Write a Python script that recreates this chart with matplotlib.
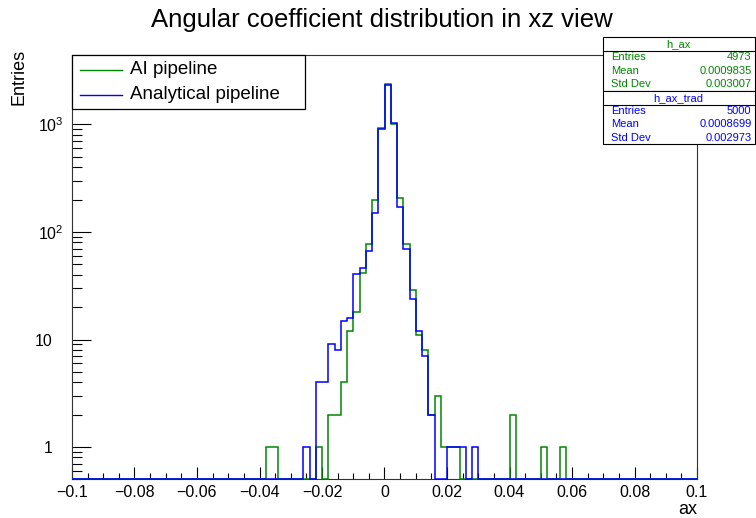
import numpy as np
import matplotlib
matplotlib.use('Agg')
import matplotlib.pyplot as plt
import matplotlib.transforms as mtransforms
from matplotlib.ticker import MultipleLocator, LogLocator, NullFormatter, FuncFormatter
from matplotlib.patches import Rectangle
from matplotlib.lines import Line2D
from matplotlib import rcParams

rcParams.update({'font.family': 'Liberation Sans',
                 'mathtext.fontset': 'custom',
                 'mathtext.rm': 'Liberation Sans',
                 'mathtext.it': 'Liberation Sans:italic'})

# binning of h_ax / h_ax_trad
nbins = 100
xmin, xmax = -0.1, 0.1
ymin, ymax = 0.5, 4430

# filled bins: lower bin edge -> entries
ai_low = [-0.038, -0.036, -0.022, -0.018, -0.016, -0.014, -0.012, -0.010, -0.008,
          -0.006, -0.004, -0.002, 0.000, 0.002, 0.004, 0.006, 0.008, 0.010, 0.012,
          0.014, 0.016, 0.018, 0.020, 0.022, 0.040, 0.050, 0.056]
ai_counts = [1, 1, 1, 2, 2, 4, 12, 18, 42,
             78, 200, 930, 2380, 1010, 208, 77, 29, 11, 8,
             2, 3, 1, 1, 1, 2, 1, 1]

trad_low = [-0.026, -0.022, -0.020, -0.018, -0.016, -0.014, -0.012, -0.010, -0.008,
            -0.006, -0.004, -0.002, 0.000, 0.002, 0.004, 0.006, 0.008, 0.010, 0.012,
            0.014, 0.020, 0.022, 0.024, 0.028]
trad_counts = [1, 4, 4, 9, 8, 15, 16, 41, 46,
               66, 149, 900, 2330, 1030, 172, 70, 24, 12, 7,
               2, 1, 1, 1, 1]

# stats panels
stats_ai = [('Entries', '4973'), ('Mean', '0.0009835'), ('Std Dev', '0.003007')]
stats_trad = [('Entries', '5000'), ('Mean', '0.0008699'), ('Std Dev', '0.002973')]

GREEN = '#008800'
BLUE = '#0000ff'
W, H = 756, 518


def fill(low, counts):
    h = np.zeros(nbins)
    idx = np.round((np.array(low) - xmin) / (xmax - xmin) * nbins).astype(int)
    h[idx] = counts
    return h


def fx(px):
    return px / W


def fy(py):
    return 1 - py / H


def xfmt(v, pos):
    v = round(v, 3)
    if abs(v) < 1e-9:
        return '0'
    return ('%g' % v).replace('-', '\u2212')


edges = np.linspace(xmin, xmax, nbins + 1)
h_ax = fill(ai_low, ai_counts)
h_ax_trad = fill(trad_low, trad_counts)

fig = plt.figure(figsize=(7.56, 5.18), dpi=100)
ax = fig.add_axes([fx(72), fy(479.4), fx(697) - fx(72), fy(55) - fy(479.4)])

ax.stairs(np.clip(h_ax, ymin, None), edges, baseline=ymin, color=GREEN, lw=1.1,
          zorder=3, clip_on=False)
ax.stairs(np.clip(h_ax_trad, ymin, None), edges, baseline=ymin, color=BLUE, lw=1.1,
          zorder=3.1, clip_on=False)

ax.set_yscale('log')
ax.set_xlim(xmin, xmax)
ax.set_ylim(ymin, ymax)

for s in ax.spines.values():
    s.set_linewidth(0.8)
    s.set_color('#333333')

ax.xaxis.set_major_locator(MultipleLocator(0.02))
ax.xaxis.set_minor_locator(MultipleLocator(0.005))
ax.xaxis.set_major_formatter(FuncFormatter(xfmt))
ax.set_yticks([1, 10, 100, 1000], labels=['1', '10', '$10^{2}$', '$10^{3}$'])
ax.yaxis.set_minor_locator(LogLocator(base=10, subs=np.arange(2, 10)))
ax.yaxis.set_minor_formatter(NullFormatter())

ax.tick_params(axis='x', which='major', direction='in', length=9, width=0.8,
               labelsize=11.5, pad=4)
ax.tick_params(axis='x', which='minor', direction='in', length=4.5, width=0.8)
ax.tick_params(axis='y', which='major', direction='in', length=13.5, width=0.8,
               labelsize=11.5, pad=14)
ax.tick_params(axis='y', which='minor', direction='in', length=7, width=0.8)

# power-of-ten labels sit a bit further right
shift = mtransforms.ScaledTranslation(11 / 100, 0, fig.dpi_scale_trans)
for lab in ax.get_yticklabels()[2:]:
    lab.set_transform(lab.get_transform() + shift)

ax.set_xlabel('ax', fontsize=13, ha='right')
ax.xaxis.set_label_coords(1.0, -0.052)
fig.text(fx(19), fy(49), 'Entries', rotation=90, ha='center', va='top', fontsize=13)

fig.text(0.505, fy(20), 'Angular coefficient distribution in xz view',
         ha='center', va='center', fontsize=18.5)

# legend
fig.patches.append(Rectangle((fx(72), fy(109)), fx(305) - fx(72), fy(55) - fy(109),
                             transform=fig.transFigure, fc='white', ec='black', lw=0.9,
                             zorder=5))
for yy, col, txt in [(69.5, GREEN, 'AI pipeline'), (94.5, BLUE, 'Analytical pipeline')]:
    fig.lines.append(Line2D([fx(80), fx(122)], [fy(yy), fy(yy)], transform=fig.transFigure,
                            color=col, lw=1.0, zorder=6))
    fig.text(fx(130), fy(yy), txt, ha='left', va='center', fontsize=13.5, zorder=6)


# stats boxes
def stat_box(top, bottom, title, rows, col):
    fig.patches.append(Rectangle((fx(602.7), fy(bottom)), fx(754.5) - fx(602.7), fy(top) - fy(bottom),
                                 transform=fig.transFigure, fc='white', ec='black', lw=0.8,
                                 zorder=5))
    sep = top + 14
    fig.lines.append(Line2D([fx(602.7), fx(754.5)], [fy(sep), fy(sep)], transform=fig.transFigure,
                            color='black', lw=0.8, zorder=6))
    fig.text(fx(678.6), fy(top + 7.5), title, ha='center', va='center', fontsize=8,
             color=col, zorder=6)
    for i, (name, val) in enumerate(rows):
        yy = sep + 6.7 + i * 13.2
        fig.text(fx(611), fy(yy), name, ha='left', va='center', fontsize=8, color=col, zorder=6)
        fig.text(fx(751.5), fy(yy), val, ha='right', va='center', fontsize=8, color=col, zorder=6)


stat_box(36.7, 90.5, 'h_ax', stats_ai, GREEN)
stat_box(90.5, 143.5, 'h_ax_trad', stats_trad, BLUE)

fig.savefig('out.png', dpi=100)
